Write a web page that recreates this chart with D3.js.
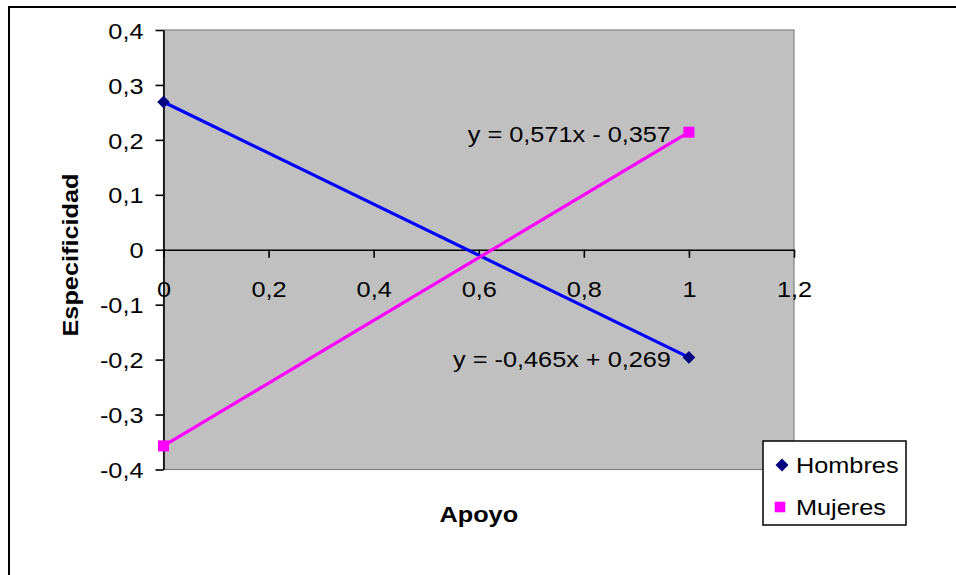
<!DOCTYPE html>
<html>
<head>
<meta charset="utf-8">
<script src="https://cdn.jsdelivr.net/npm/d3@7"></script>
<style>
  html, body { margin: 0; padding: 0; background: #fff; }
  svg { display: block; font-family: "Liberation Sans", Arial, sans-serif; }
</style>
</head>
<body>
<svg id="chart" width="956" height="575"></svg>
<script>
// Specificity against support, by sex
const apoyo = [0, 1];
const hombres = [0.269, -0.196];
const mujeres = [-0.357, 0.214];
const seriesNames = ["Hombres", "Mujeres"];
const trendLabels = ["y = -0,465x + 0,269", "y = 0,571x - 0,357"];
const xTicks = [0, 0.2, 0.4, 0.6, 0.8, 1, 1.2];
const yTicks = [-0.4, -0.3, -0.2, -0.1, 0, 0.1, 0.2, 0.3, 0.4];
const xTitle = "Apoyo";
const yTitle = "Especificidad";

const svg = d3.select("#chart");
const FS = 22;          // font size
const SX = 1.15;        // horizontal stretch of the chart's lettering
const plot = { left: 163.5, right: 794, top: 30, bottom: 469.5 };

const x = d3.scaleLinear().domain([0, 1.2]).range([plot.left, plot.right]);
const y = d3.scaleLinear().domain([-0.4, 0.4]).range([plot.bottom, plot.top]);
const fmt = d => String(+d.toFixed(1)).replace(".", ",");

// outer chart frame
svg.append("rect")
  .attr("x", 9).attr("y", 7).attr("width", 1000).attr("height", 700)
  .attr("fill", "#fff").attr("stroke", "#000").attr("stroke-width", 2);

// plot area
svg.append("rect")
  .attr("x", plot.left).attr("y", plot.top)
  .attr("width", plot.right - plot.left).attr("height", plot.bottom - plot.top)
  .attr("fill", "#c0c0c0").attr("stroke", "#808080").attr("stroke-width", 1.2);

function stretchedText(parent, tx, ty, str, anchor, opts = {}) {
  return parent.append("text")
    .attr("transform", `translate(${tx},${ty})${opts.rotate ? ` rotate(${opts.rotate})` : ""} scale(${SX},1)`)
    .attr("text-anchor", anchor)
    .attr("font-size", FS)
    .attr("font-weight", opts.bold ? "bold" : "normal")
    .attr("fill", "#000")
    .text(str);
}

// y axis
const yAxis = svg.append("g")
  .attr("transform", `translate(${plot.left},0)`)
  .call(d3.axisLeft(y).tickValues(yTicks).tickSize(8).tickSizeOuter(0).tickFormat(fmt));
yAxis.selectAll("path, line").attr("stroke", "#000").attr("stroke-width", 1.6);
yAxis.selectAll("text")
  .attr("x", 0).attr("dy", "0.37em")
  .attr("transform", `translate(-20,0) scale(${SX},1)`)
  .attr("font-size", FS).attr("font-family", null).attr("fill", "#000");

// x axis along y = 0
const xAxis = svg.append("g")
  .attr("transform", `translate(0,${y(0)})`)
  .call(d3.axisBottom(x).tickValues(xTicks).tickSize(8).tickSizeOuter(0).tickFormat(fmt));
xAxis.selectAll("path, line").attr("stroke", "#000").attr("stroke-width", 1.6);
xAxis.selectAll("text")
  .attr("y", 0).attr("dy", 0)
  .attr("transform", `translate(0,47) scale(${SX},1)`)
  .attr("font-size", FS).attr("font-family", null).attr("fill", "#000");

// series
const series = [
  { name: seriesNames[0], values: hombres, line: "#0000ff", mark: "#000080", shape: "diamond", label: trendLabels[0] },
  { name: seriesNames[1], values: mujeres, line: "#ff00ff", mark: "#ff00ff", shape: "square", label: trendLabels[1] }
];

const line = d3.line().x(d => x(d[0])).y(d => y(d[1]));
const diamond = d3.symbol(d3.symbolSquare, 80);
const square = d3.symbol(d3.symbolSquare, 121);

series.forEach(s => {
  const pts = apoyo.map((a, i) => [a, s.values[i]]);
  svg.append("path").datum(pts)
    .attr("d", line).attr("fill", "none")
    .attr("stroke", s.line).attr("stroke-width", 3.2);
  svg.selectAll(null).data(pts).enter().append("path")
    .attr("d", s.shape === "diamond" ? diamond : square)
    .attr("transform", d => `translate(${x(d[0])},${y(d[1])})${s.shape === "diamond" ? " rotate(45)" : ""}`)
    .attr("fill", s.mark);
  // fitted-line equation beside the last point
  const last = pts[pts.length - 1];
  stretchedText(svg, x(last[0]) - 18, y(last[1]) + 9.5, s.label, "end");
});

// axis titles
stretchedText(svg, (plot.left + plot.right) / 2, 522, xTitle, "middle", { bold: true });
stretchedText(svg, 78, 255, yTitle, "middle", { bold: true, rotate: -90 });

// legend
const lg = svg.append("g");
lg.append("rect").attr("x", 763).attr("y", 441).attr("width", 143).attr("height", 84)
  .attr("fill", "#fff").attr("stroke", "#000").attr("stroke-width", 1.5);
series.forEach((s, i) => {
  const cy = 465 + i * 42;
  lg.append("path")
    .attr("d", s.shape === "diamond" ? d3.symbol(d3.symbolSquare, 84)() : d3.symbol(d3.symbolSquare, 112)())
    .attr("transform", `translate(${s.shape === "diamond" ? 782 : 780},${cy})${s.shape === "diamond" ? " rotate(45)" : ""}`)
    .attr("fill", s.mark);
  stretchedText(lg, 796, cy + 8, s.name, "start");
});
</script>
</body>
</html>
